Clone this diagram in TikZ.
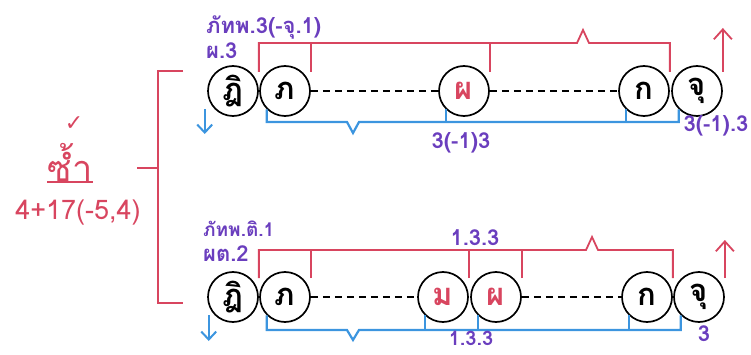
\documentclass[tikz,border=0pt]{standalone}
\usepackage{fontspec}
\usepackage{xcolor}
\usepackage{tikz}
\usetikzlibrary{arrows.meta,positioning,calc}
\newfontfamily\thaifont[Script=Thai]{Loma}
\newfontfamily\symfont{DejaVu Sans}
\definecolor{cue}{HTML}{D8455F}
\definecolor{span}{HTML}{3C95DF}
\definecolor{tag}{HTML}{6A3EBE}

\begin{document}
\begin{tikzpicture}[x=1pt, y=-1pt,
  syl/.style={circle, draw, line width=1.7pt, minimum size=50pt, inner sep=0pt,
    font=\thaifont\bfseries\fontsize{31}{31}\selectfont},
  hot/.style={syl, text=cue},
  tagText/.style={text=tag, inner sep=0pt, font=\thaifont\bfseries\fontsize{22}{22}\selectfont},
  upper/.style={draw=cue, line width=1.8pt},
  lower/.style={draw=span, line width=2.2pt},
  gap/.style={draw, line width=1.8pt, dash pattern=on 7pt off 5pt},
  rise/.style={upper, -{Straight Barb[length=10pt,width=18pt,line width=1.8pt]}},
  fall/.style={lower, -{Straight Barb[length=8pt,width=15pt,line width=2pt]}}
]
  \useasboundingbox (0,0) rectangle (751,355);

  % left side
  \node[text=cue, inner sep=0pt, font=\thaifont\fontsize{36}{36}\selectfont] (zam) at (70,162) {ซ้ำ};
  \node[text=cue, inner sep=0pt, font=\symfont\fontsize{22}{22}\selectfont] (tick) at (74,124) {✓};
  \node[text=cue, inner sep=0pt, font=\thaifont\fontsize{27}{27}\selectfont] (count) at (78,213) {4+17(-5,4)};
  \coordinate (uline) at (0,182);
  \draw[upper] (zam.west |- uline) -- (zam.east |- uline);

  \coordinate (brTop) at (183,71);
  \coordinate (brBot) at (183,303);
  \coordinate (brSpine) at (158,0);
  \coordinate (brMid) at (137,168);
  \draw[upper] (brTop) -| (brSpine |- brBot) -- (brBot);
  \draw[upper] (brMid) -- (brMid -| brSpine);

  % upper row
  \node[syl] (t0) at (233,91) {ฎิ};
  \node[syl] (t1) at (285,91) {ภ};
  \node[hot] (t2) at (464,91) {ผ};
  \node[syl] (t3) at (644,91) {ก};
  \node[syl] (t4) at (697,91) {จุ};
  \draw[gap] (t1) -- (t2);
  \draw[gap] (t2) -- (t3);

  \coordinate (tTop) at (0,43);
  \coordinate (tHat) at (583,43);
  \coordinate (tTip) at (0,28);
  \draw[upper] ([yshift=19pt]t0.east) |- ([xshift=-6pt]tHat) -- ++(6,-13) -- ++(6,13)
    -| ([yshift=19pt]t3.east);
  \draw[upper] ([yshift=19pt]t1.east) -- (t1.east |- tTop);
  \draw[upper] ([yshift=19pt]t2.east) -- (t2.east |- tTop);
  \draw[rise] ([yshift=19pt]t4.east) -- (t4.east |- tTip);

  \coordinate (tBot) at (0,122);
  \coordinate (tDip) at (353,122);
  \coordinate (tDrop) at (0,134);
  \draw[lower] (t1.south west) |- ([xshift=-6pt]tDip) -- ++(6,11) -- ++(6,-11)
    -| (t4.south west);
  \draw[lower] (t2.south west) -- (t2.south west |- tBot);
  \draw[lower] (t3.south west) -- (t3.south west |- tBot);
  \draw[fall] ([xshift=-10pt]t0.south west) -- ([xshift=-10pt]t0.south west |- tDrop);

  \node[tagText, anchor=west] (tName) at (206,27) {ภัทพ.3(-จุ.1)};
  \node[tagText, anchor=west] (tSub) at (206,51) {ผ.3};
  \node[tagText] (tMid) at (461,143) {3(-1)3};
  \node[tagText] (tEnd) at (716,126) {3(-1).3};

  % lower row
  \node[syl] (b0) at (233,297) {ฎิ};
  \node[syl] (b1) at (285,297) {ภ};
  \node[hot] (b2) at (443,297) {ม};
  \node[hot] (b3) at (496,297) {ผ};
  \node[syl] (b4) at (647,297) {ก};
  \node[syl] (b5) at (699,297) {จุ};
  \draw[gap] (b1) -- (b2);
  \draw[gap] (b3) -- (b4);

  \coordinate (bTop) at (0,250);
  \coordinate (bHat) at (592,250);
  \coordinate (bTip) at (0,240);
  \draw[upper] ([yshift=19pt]b0.east) |- ([xshift=-6pt]bHat) -- ++(6,-13) -- ++(6,13)
    -| ([yshift=19pt]b4.east);
  \draw[upper] ([yshift=19pt]b1.east) -- (b1.east |- bTop);
  \draw[upper] ([yshift=19pt]b2.east) -- (b2.east |- bTop);
  \draw[upper] ([yshift=19pt]b3.east) -- (b3.east |- bTop);
  \draw[rise] ([yshift=19pt]b5.east) -- (b5.east |- bTip);

  \coordinate (bBot) at (0,330);
  \coordinate (bDip) at (353,330);
  \coordinate (bDrop) at (0,341);
  \draw[lower] (b1.south west) |- ([xshift=-6pt]bDip) -- ++(6,10) -- ++(6,-10)
    -| (b5.south west);
  \draw[lower] (b2.south west) -- (b2.south west |- bBot);
  \draw[lower] (b3.south west) -- (b3.south west |- bBot);
  \draw[lower] (b4.south west) -- (b4.south west |- bBot);
  \draw[fall] ([xshift=-6pt]b0.south west) -- ([xshift=-6pt]b0.south west |- bDrop);

  \node[tagText, anchor=west, font=\thaifont\bfseries\fontsize{19}{19}\selectfont] (bName) at (203,229) {ภัทพ.ติ.1};
  \node[tagText, anchor=west] (bSub) at (203,254) {ผต.2};
  \node[tagText] (bOver) at (475,238) {1.3.3};
  \node[tagText, font=\thaifont\bfseries\fontsize{20}{20}\selectfont] (bUnder) at (471,338) {1.3.3};
  \node[tagText] (bEnd) at (704,334) {3};
\end{tikzpicture}
\end{document}
